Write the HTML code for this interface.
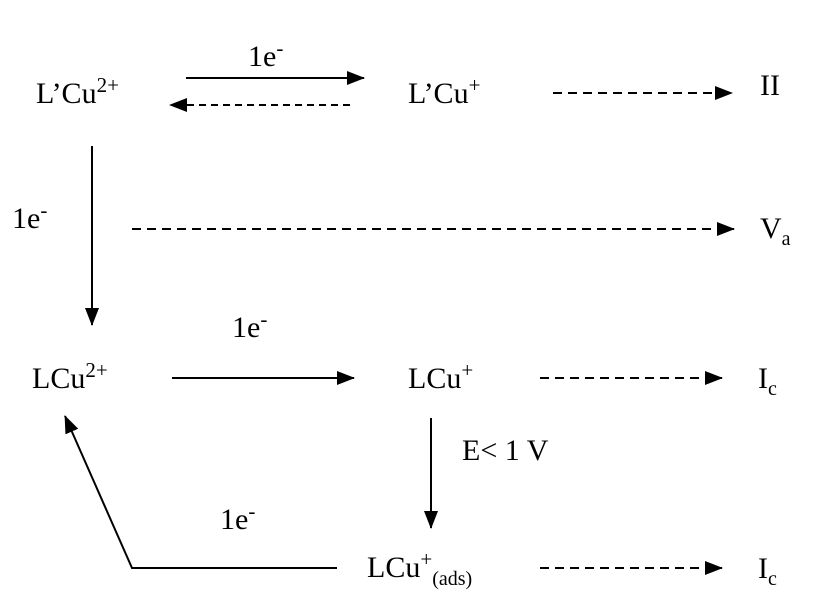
<!DOCTYPE html>
<html><head><style>body{margin:0;background:#fff}svg{display:block}</style></head><body>
<svg width="813" height="602" xmlns="http://www.w3.org/2000/svg" font-family="Liberation Serif, serif" font-size="30" fill="#000">
<defs>
<marker id="b" markerWidth="18" markerHeight="14" refX="17" refY="7" orient="auto" markerUnits="userSpaceOnUse"><path d="M0,0 L18,7 L0,14z"/></marker></defs>
<g stroke="#000" stroke-width="2" fill="none">
<line x1="186" y1="78" x2="364" y2="78" marker-end="url(#b)"/>
<line x1="350" y1="105" x2="170" y2="105" stroke-dasharray="7,5" marker-end="url(#b)"/>
<line x1="553" y1="93" x2="732" y2="93" stroke-dasharray="9,6" marker-end="url(#b)"/>
<line x1="92" y1="146" x2="92" y2="325" marker-end="url(#b)"/>
<line x1="132" y1="229" x2="734" y2="229" stroke-dasharray="9,6" marker-end="url(#b)"/>
<line x1="172" y1="378" x2="354" y2="378" marker-end="url(#b)"/>
<line x1="540" y1="378" x2="722" y2="378" stroke-dasharray="9,6" marker-end="url(#b)"/>
<line x1="431" y1="418" x2="431" y2="528" marker-end="url(#b)"/>
<polyline points="337,568 132,568 65,416" marker-end="url(#b)"/>
<line x1="540" y1="568" x2="722" y2="568" stroke-dasharray="9,6" marker-end="url(#b)"/>
</g>
<text x="36" y="103">L’Cu<tspan font-size="21" dy="-11">2+</tspan></text>
<text x="248" y="66">1e<tspan font-size="21" dy="-11">-</tspan></text>
<text x="408" y="103">L’Cu<tspan font-size="21" dy="-11">+</tspan></text>
<text x="760" y="95">II</text>
<text x="12" y="228">1e<tspan font-size="21" dy="-11">-</tspan></text>
<text x="760" y="238">V<tspan font-size="20" dy="7">a</tspan></text>
<text x="32" y="388">LCu<tspan font-size="21" dy="-11">2+</tspan></text>
<text x="232" y="337">1e<tspan font-size="21" dy="-11">-</tspan></text>
<text x="408" y="388">LCu<tspan font-size="21" dy="-11">+</tspan></text>
<text x="758" y="388">I<tspan font-size="20" dy="7">c</tspan></text>
<text x="462" y="460">E&lt; 1 V</text>
<text x="220" y="529">1e<tspan font-size="21" dy="-11">-</tspan></text>
<text x="367" y="577">LCu<tspan font-size="21" dy="-11">+</tspan><tspan font-size="20" dy="19">(ads)</tspan></text>
<text x="758" y="578">I<tspan font-size="20" dy="7">c</tspan></text>
</svg>
</body></html>
